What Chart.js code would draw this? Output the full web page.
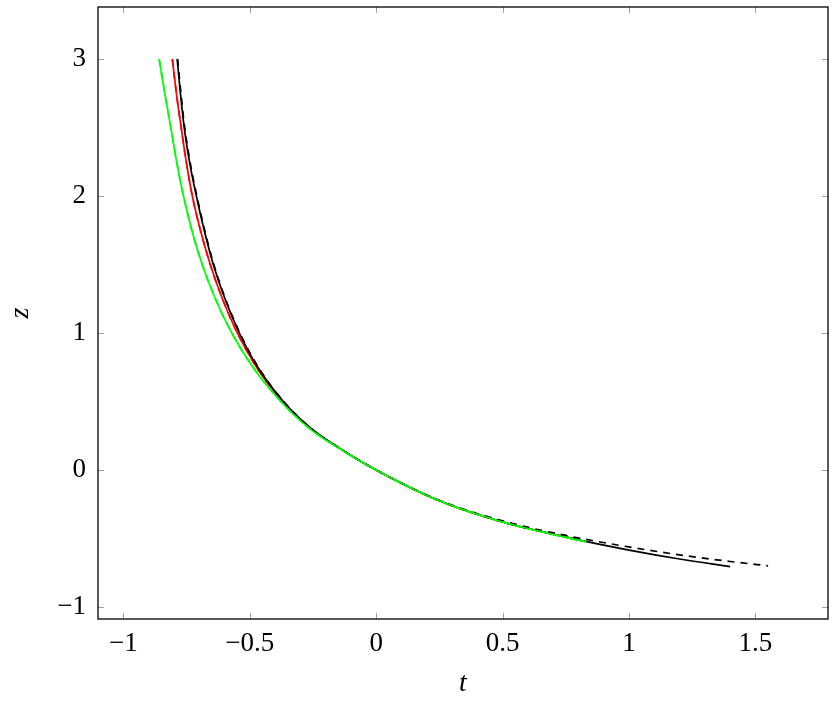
<!DOCTYPE html>
<html>
<head>
<meta charset="utf-8">
<script src="https://cdn.jsdelivr.net/npm/chart.js@4.4.1/dist/chart.umd.min.js"></script>
<style>
  body { margin: 0; background: #fff; }
  #wrap { width: 838px; height: 706px; }
</style>
</head>
<body>
<div id="wrap"><canvas id="chart" width="838" height="706"></canvas></div>
<script>
// tick labels
const xTicks = [-1, -0.5, 0, 0.5, 1, 1.5];
const yTicks = [-1, 0, 1, 2, 3];

// black solid
const tBlackSolid = [-0.787, -0.774, -0.759, -0.738, -0.711, -0.680, -0.644, -0.598, -0.541, -0.468, -0.367, -0.255, -0.12, 0, 0.25, 0.5, 0.75, 1.0, 1.2, 1.4];
const zBlackSolid = [3.0, 2.75, 2.5, 2.25, 2.0, 1.75, 1.5, 1.25, 1.0, 0.75, 0.5, 0.30, 0.13, 0, -0.225, -0.38, -0.49, -0.585, -0.65, -0.705];

// black dashed
const tBlackDashed = [-0.785, -0.772, -0.757, -0.736, -0.709, -0.678, -0.642, -0.596, -0.539, -0.466, -0.366, -0.255, -0.12, 0, 0.25, 0.5, 0.75, 1.0, 1.25, 1.4, 1.55];
const zBlackDashed = [3.0, 2.75, 2.5, 2.25, 2.0, 1.75, 1.5, 1.25, 1.0, 0.75, 0.5, 0.30, 0.13, 0, -0.222, -0.372, -0.478, -0.562, -0.633, -0.668, -0.70];

// red (solid and dashed nearly on top of each other)
const tRed = [-0.806, -0.790, -0.771, -0.751, -0.727, -0.695, -0.656, -0.608, -0.549, -0.473, -0.370, -0.257, -0.12, 0, 0.25, 0.5, 0.8];
const zRed = [3, 2.75, 2.5, 2.25, 2, 1.75, 1.5, 1.25, 1, 0.75, 0.5, 0.30, 0.13, 0, -0.225, -0.38, -0.51];

// green (solid and dashed)
const tGreen = [-0.858, -0.836, -0.812, -0.789, -0.762, -0.729, -0.688, -0.636, -0.571, -0.487, -0.377, -0.262, -0.122, 0, 0.25, 0.5, 0.83];
const zGreen = [3, 2.75, 2.5, 2.25, 2, 1.75, 1.5, 1.25, 1, 0.75, 0.5, 0.30, 0.13, 0, -0.225, -0.38, -0.525];

const pts = (ts, zs) => ts.map((t, i) => ({ x: t, y: zs[i] }));

function series(ts, zs, color, dashed) {
  return {
    data: pts(ts, zs),
    borderColor: color,
    borderWidth: 1.7,
    borderDash: dashed ? [7, 6] : [],
    pointRadius: 0,
    fill: false,
    cubicInterpolationMode: "monotone"
  };
}

const fmt = v => (v < 0 ? "\u2212" + Math.abs(v) : String(v));

// frame + inward ticks on all four sides
const framePlugin = {
  id: "frame",
  afterDatasetsDraw(chart) {
    const { ctx, chartArea: a, scales } = chart;
    ctx.save();
    ctx.strokeStyle = "#a0a0a0";
    ctx.lineWidth = 1;
    const len = 6;
    xTicks.forEach(v => {
      const px = Math.round(scales.x.getPixelForValue(v)) + 0.5;
      ctx.beginPath();
      ctx.moveTo(px, a.bottom); ctx.lineTo(px, a.bottom - len);
      ctx.moveTo(px, a.top); ctx.lineTo(px, a.top + len);
      ctx.stroke();
    });
    yTicks.forEach(v => {
      const py = Math.round(scales.y.getPixelForValue(v)) + 0.5;
      ctx.beginPath();
      ctx.moveTo(a.left, py); ctx.lineTo(a.left + len, py);
      ctx.moveTo(a.right, py); ctx.lineTo(a.right - len, py);
      ctx.stroke();
    });
    ctx.strokeStyle = "#000";
    ctx.lineWidth = 1.3;
    ctx.strokeRect(a.left, a.top, a.right - a.left, a.bottom - a.top);
    ctx.restore();
  }
};

new Chart(document.getElementById("chart"), {
  type: "line",
  data: {
    datasets: [
      series(tGreen, zGreen, "#00ff00", true),
      series(tGreen, zGreen, "#00ff00", false),
      series(tBlackDashed, zBlackDashed, "#000000", true),
      series(tBlackSolid, zBlackSolid, "#000000", false),
      series(tRed, zRed, "#ff0000", true),
      series(tRed, zRed, "#ff0000", false)
    ]
  },
  options: {
    responsive: false,
    animation: false,
    layout: { padding: { top: 7, right: 10, left: 0, bottom: 0 } },
    plugins: { legend: { display: false }, tooltip: { enabled: false } },
    scales: {
      x: {
        type: "linear",
        min: -1.1,
        max: 1.787,
        afterBuildTicks: ax => { ax.ticks = xTicks.map(v => ({ value: v })); },
        afterFit: ax => { ax.height = 87; ax.paddingLeft = 0; ax.paddingRight = 0; },
        grid: { display: false, drawTicks: false },
        border: { display: false },
        ticks: {
          padding: 9,
          color: "#000",
          maxRotation: 0,
          font: { family: "Liberation Serif", size: 27 },
          callback: v => fmt(v)
        },
        title: {
          display: true,
          text: "t",
          color: "#000",
          padding: { top: 0, bottom: 6 },
          font: { family: "Liberation Serif", size: 28, style: "italic" }
        }
      },
      y: {
        type: "linear",
        min: -1.088,
        max: 3.38,
        afterBuildTicks: ax => { ax.ticks = yTicks.map(v => ({ value: v })); },
        afterFit: ax => { ax.width = 98; ax.paddingTop = 0; ax.paddingBottom = 0; },
        grid: { display: false, drawTicks: false },
        border: { display: false },
        ticks: {
          padding: 12,
          color: "#000",
          font: { family: "Liberation Serif", size: 27 },
          callback: v => fmt(v)
        },
        title: {
          display: true,
          text: "z",
          color: "#000",
          padding: { top: 4, bottom: 0 },
          font: { family: "Liberation Serif", size: 28, style: "italic" }
        }
      }
    }
  },
  plugins: [framePlugin]
});
</script>
</body>
</html>
